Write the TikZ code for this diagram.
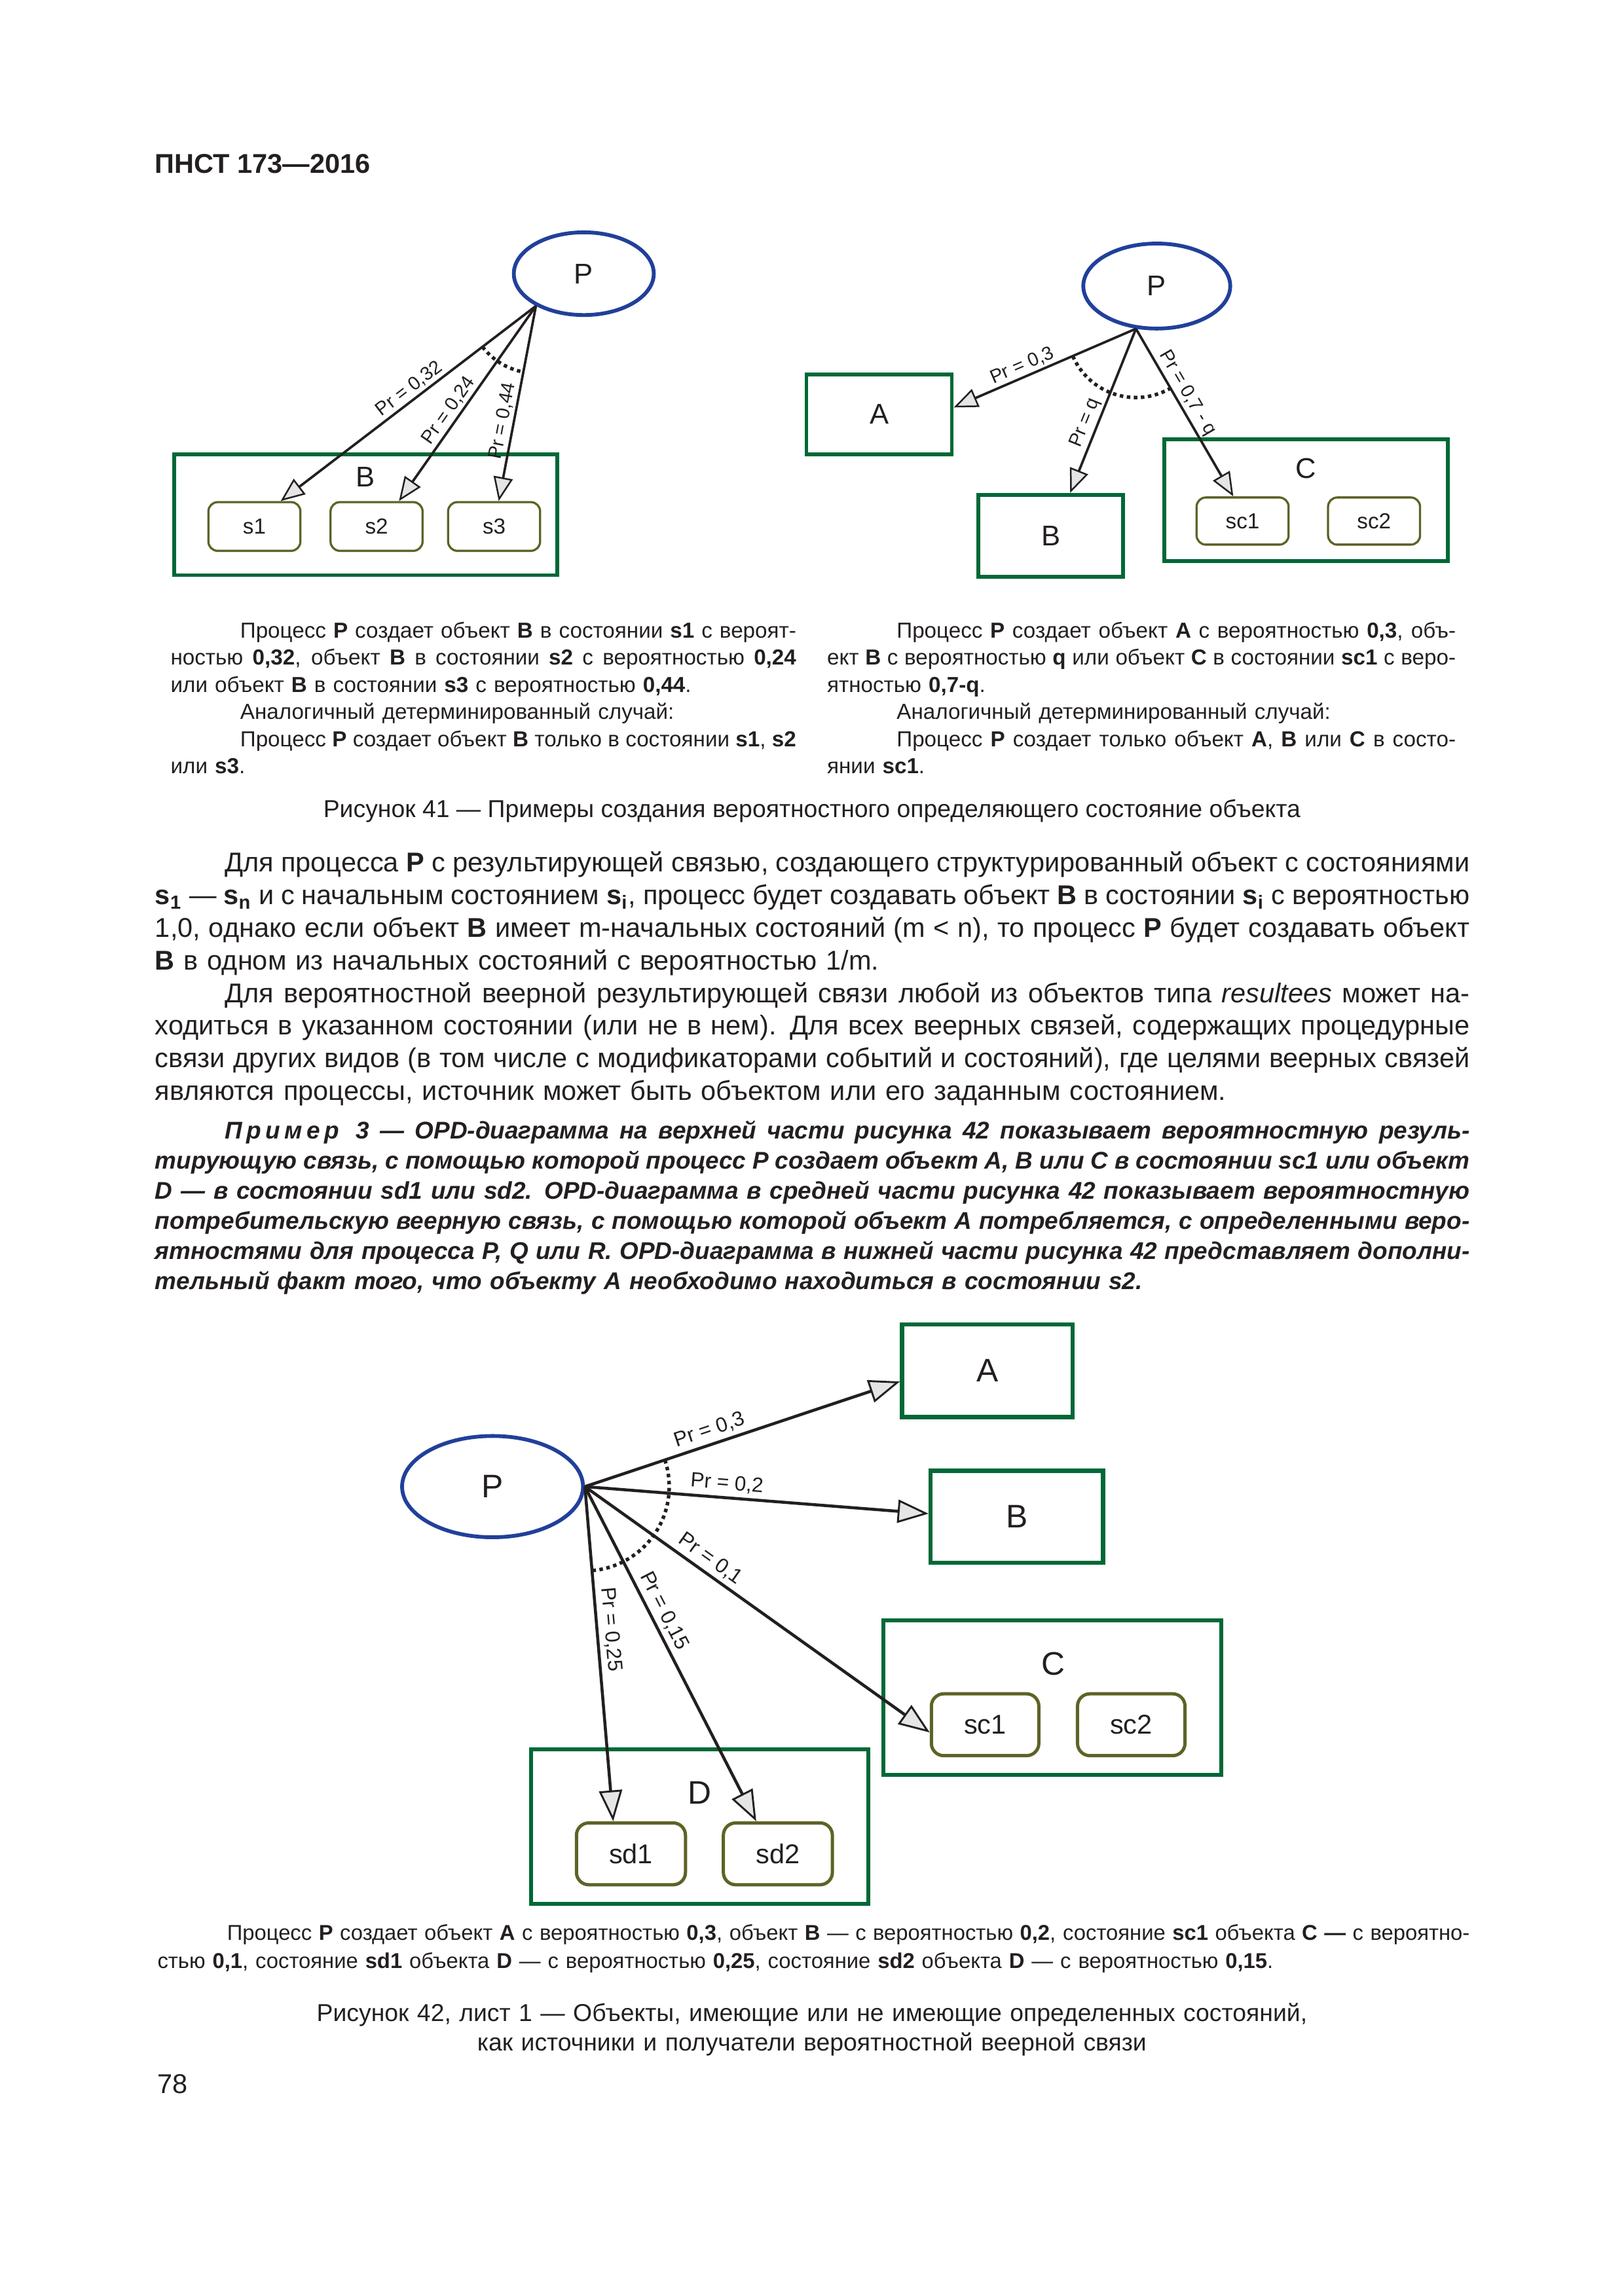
\documentclass[tikz,border=0pt]{standalone}
\usepackage{fontspec}
\setmainfont{Liberation Sans}
\usepackage{xcolor}
\usetikzlibrary{arrows.meta,shapes.geometric}

\definecolor{procblue}{RGB}{33,64,154}
\definecolor{objgreen}{RGB}{0,104,55}
\definecolor{stateolive}{RGB}{94,99,38}
\definecolor{ink}{RGB}{35,31,32}

\newcommand{\parln}[1]{\hbox to\hsize{\spaceskip=.278em plus .4em minus .11em\hskip9mm #1}}
\newcommand{\fullln}[1]{\hbox to\hsize{\spaceskip=.278em plus .4em minus .11em #1}}
\newcommand{\lastln}[1]{\hbox{#1}}
\newcommand{\shortparln}[1]{\hbox{\hskip9mm #1}}

\begin{document}
\begin{tikzpicture}[x=1mm,y=1mm,color=ink]
    \tikzstyle{proc} = [ellipse, draw=procblue, line width=1.4pt, inner sep=0pt]
    \tikzstyle{obj} = [rectangle, draw=objgreen, line width=1.4pt, inner sep=0pt]
    \tikzstyle{state} = [rectangle, draw=stateolive, rounded corners=1.2mm, line width=0.8pt, inner sep=0pt]
    \tikzstyle{link} = [line width=0.9pt, -{Triangle[length=3.1mm, width=2.5mm, fill=black!10, line width=0.6pt]}]
    \tikzstyle{biglink} = [line width=1.1pt, -{Triangle[length=4mm, width=3mm, fill=black!10, line width=0.7pt]}]
    \tikzstyle{fan} = [line width=1.3pt, dash pattern=on 1.3pt off 1.3pt]
    \tikzstyle{pr} = [sloped, above, inner sep=0.8pt, font=\fontsize{7}{8}\selectfont]
    \tikzstyle{bigpr} = [sloped, above, inner sep=1.5pt, font=\fontsize{7.6}{9}\selectfont]
    \tikzstyle{objname} = [inner sep=0pt, font=\fontsize{10.5}{12}\selectfont]
    \tikzstyle{bigobjname} = [inner sep=0pt, font=\fontsize{12}{14}\selectfont]
    \tikzstyle{smalltext} = [anchor=base west, inner sep=0pt, font=\fontsize{8}{10}\selectfont]
    \useasboundingbox (0,0) rectangle (210,-297);

    \node[anchor=base west, inner sep=0pt, font=\bfseries\fontsize{10}{12}\selectfont] (head) at (20,-22.4) {ПНСТ 173—2016};

    % figure 41, left
    \node[proc, objname, minimum width=18.1mm, minimum height=10.7mm] (P1) at (75.5,-35.4) {P};
    \node[obj, minimum width=49.6mm, minimum height=15.6mm] (B1) at (47.3,-66.6) {};
    \node[objname] (B1name) at (47.3,-61.7) {B};
    \node[state, minimum width=11.9mm, minimum height=6.3mm, font=\fontsize{8}{10}\selectfont] (s1) at (32.9,-68.1) {s1};
    \node[state, minimum width=11.9mm, minimum height=6.3mm, font=\fontsize{8}{10}\selectfont] (s2) at (48.7,-68.1) {s2};
    \node[state, minimum width=11.9mm, minimum height=6.3mm, font=\fontsize{8}{10}\selectfont] (s3) at (63.9,-68.1) {s3};
    \coordinate (o1) at (P1.214);
    \draw[link] (o1) -- node[pr, pos=.47] {Pr = 0,32} ([xshift=3.4mm]s1.north);
    \draw[link] (o1) -- node[pr, pos=.57] {Pr = 0,24} ([xshift=2.9mm]s2.north);
    \draw[link] (o1) -- node[pr, pos=.6] {Pr = 0,44} ([xshift=0.6mm]s3.north);
    \draw[fan] (o1) ++(217.5:8.7) arc[start angle=217.5, end angle=258.9, radius=8.7];

    % figure 41, right
    \node[proc, objname, minimum width=19mm, minimum height=11mm] (P2) at (149.6,-37) {P};
    \node[obj, objname, minimum width=18.8mm, minimum height=10.3mm] (A2) at (113.7,-53.6) {A};
    \node[obj, objname, minimum width=18.7mm, minimum height=10.6mm] (B2) at (135.9,-69.3) {B};
    \node[obj, minimum width=36.7mm, minimum height=15.8mm] (C2) at (168.9,-64.7) {};
    \node[objname] (C2name) at (168.9,-60.6) {C};
    \node[state, minimum width=11.9mm, minimum height=6.1mm, font=\fontsize{8}{10}\selectfont] (sc1) at (160.7,-67.4) {sc1};
    \node[state, minimum width=11.9mm, minimum height=6.1mm, font=\fontsize{8}{10}\selectfont] (sc2) at (177.7,-67.4) {sc2};
    \coordinate (o2) at (P2.244);
    \draw[link] (o2) -- node[pr, pos=.6] {Pr = 0,3} ([yshift=0.9mm]A2.east);
    \draw[link] (o2) -- node[pr, pos=.6] {Pr = q} ([xshift=2.5mm]B2.north);
    \draw[link] (o2) -- node[pr, pos=.42] {Pr = 0,7 - q} ([xshift=-1.2mm]sc1.north);
    \draw[fan] (o2) ++(203.5:8.9) arc[start angle=203.5, end angle=299.6, radius=8.9];

    \node[smalltext, text width=80.9mm] (text41l) at (22,-82.5) {\parln{Процесс \textbf{P} создает объект \textbf{B} в состоянии \textbf{s1} с вероят-}
        \fullln{ностью \textbf{0,32}, объект \textbf{B} в состоянии \textbf{s2} с вероятностью \textbf{0,24}}
        \lastln{или объект \textbf{B} в состоянии \textbf{s3} с вероятностью \textbf{0,44}.}
        \shortparln{Аналогичный детерминированный случай:}
        \parln{Процесс \textbf{P} создает объект \textbf{B} только в состоянии \textbf{s1}, \textbf{s2}}
        \lastln{или \textbf{s3}.}};
    \node[smalltext, text width=81.3mm] (text41r) at (106.9,-82.5) {\parln{Процесс \textbf{P} создает объект \textbf{A} с вероятностью \textbf{0,3}, объ-}
        \fullln{ект \textbf{B} с вероятностью \textbf{q} или объект \textbf{C} в состоянии \textbf{sc1} с веро-}
        \lastln{ятностью \textbf{0,7-q}.}
        \shortparln{Аналогичный детерминированный случай:}
        \parln{Процесс \textbf{P} создает только объект \textbf{A}, \textbf{B} или \textbf{C} в состо-}
        \lastln{янии \textbf{sc1}.}};
    \node[anchor=base, inner sep=0pt, font=\fontsize{9}{11}\selectfont] (title41) at (105,-105.7) {Рисунок 41 — Примеры создания вероятностного определяющего состояние объекта};

    \node[anchor=base west, inner sep=0pt, text width=170mm, font=\fontsize{10}{12}\selectfont] (body) at (20,-112.8) {\parln{Для процесса \textbf{P} с результирующей связью, создающего структурированный объект с состояниями}
        \fullln{\textbf{s\textsubscript{1}} — \textbf{s\textsubscript{n}} и с начальным состоянием \textbf{s\textsubscript{i}}, процесс будет создавать объект \textbf{B} в состоянии \textbf{s\textsubscript{i}} с вероятностью}
        \fullln{1,0, однако если объект \textbf{B} имеет m-начальных состояний (m < n), то процесс \textbf{P} будет создавать объект}
        \lastln{\textbf{B} в одном из начальных состояний с вероятностью 1/m.}
        \parln{Для вероятностной веерной результирующей связи любой из объектов типа \textit{resultees} может на-}
        \fullln{ходиться в указанном состоянии (или не в нем). Для всех веерных связей, содержащих процедурные}
        \fullln{связи других видов (в том числе с модификаторами событий и состояний), где целями веерных связей}
        \lastln{являются процессы, источник может быть объектом или его заданным состоянием.}};

    \node[anchor=base west, inner sep=0pt, text width=170mm, font=\fontsize{8.9}{11.1}\selectfont\bfseries\itshape] (example) at (20,-147.3) {\parln{П\kern1.6ptр\kern1.6ptи\kern1.6ptм\kern1.6ptе\kern1.6ptр\hskip6pt 3 — OPD-диаграмма на верхней части рисунка 42 показывает вероятностную резуль-}
        \fullln{тирующую связь, с помощью которой процесс P создает объект A, B или C в состоянии sc1 или объект}
        \fullln{D — в состоянии sd1 или sd2. OPD-диаграмма в средней части рисунка 42 показывает вероятностную}
        \fullln{потребительскую веерную связь, с помощью которой объект A потребляется, с определенными веро-}
        \fullln{ятностями для процесса P, Q или R. OPD-диаграмма в нижней части рисунка 42 представляет дополни-}
        \lastln{тельный факт того, что объекту A необходимо находиться в состоянии s2.}};

    % figure 42
    \node[proc, bigobjname, minimum width=23.4mm, minimum height=13.1mm] (P3) at (63.7,-192.3) {P};
    \node[obj, bigobjname, line width=1.5pt, minimum width=22.1mm, minimum height=12mm] (A3) at (127.7,-177.3) {A};
    \node[obj, bigobjname, line width=1.5pt, minimum width=22.3mm, minimum height=11.9mm] (B3) at (131.5,-196.2) {B};
    \node[obj, line width=1.5pt, minimum width=43.7mm, minimum height=20mm] (C3) at (136.1,-219.6) {};
    \node[bigobjname] (C3name) at (136.2,-215.2) {C};
    \node[state, line width=1.2pt, rounded corners=1.6mm, minimum width=13.9mm, minimum height=8mm, font=\fontsize{10}{12}\selectfont] (sc13) at (127.4,-223.1) {sc1};
    \node[state, line width=1.2pt, rounded corners=1.6mm, minimum width=13.9mm, minimum height=8mm, font=\fontsize{10}{12}\selectfont] (sc23) at (146.3,-223.1) {sc2};
    \node[obj, line width=1.5pt, minimum width=43.6mm, minimum height=20mm] (D3) at (90.5,-236.3) {};
    \node[bigobjname] (D3name) at (90.5,-231.9) {D};
    \node[state, line width=1.2pt, rounded corners=1.6mm, minimum width=14.1mm, minimum height=8mm, font=\fontsize{10}{12}\selectfont] (sd1) at (81.6,-239.8) {sd1};
    \node[state, line width=1.2pt, rounded corners=1.6mm, minimum width=14.1mm, minimum height=8mm, font=\fontsize{10}{12}\selectfont] (sd2) at (100.6,-239.8) {sd2};
    \coordinate (o3) at (P3.east);
    \draw[biglink] (o3) -- node[bigpr, pos=.41] {Pr = 0,3} ([yshift=-1.4mm]A3.west);
    \draw[biglink] (o3) -- node[bigpr, pos=.41] {Pr = 0,2} ([yshift=0.4mm]B3.west);
    \draw[biglink] (o3) -- node[bigpr, pos=.34] {Pr = 0,1} ([yshift=-1mm]sc13.west);
    \draw[biglink] (o3) -- node[bigpr, pos=.39] {Pr = 0,15} ([xshift=-2.8mm]sd2.north);
    \draw[biglink] (o3) -- node[bigpr, pos=.43] {Pr = 0,25} ([xshift=-2.3mm]sd1.north);
    \draw[fan] (o3) ++(-84.9:10.9) arc[start angle=-84.9, end angle=18.25, radius=10.9];

    \node[smalltext, text width=169.7mm, font=\fontsize{7.9}{10.2}\selectfont] (text42) at (20.3,-251) {\parln{Процесс \textbf{P} создает объект \textbf{A} с вероятностью \textbf{0,3}, объект \textbf{B} — с вероятностью \textbf{0,2}, состояние \textbf{sc1} объекта \textbf{C —} с вероятно-}
        \lastln{стью \textbf{0,1}, состояние \textbf{sd1} объекта \textbf{D} — с вероятностью \textbf{0,25}, состояние \textbf{sd2} объекта \textbf{D} — с вероятностью \textbf{0,15}.}};
    \node[anchor=base, inner sep=0pt, text width=170mm, align=center, font=\fontsize{9}{10.8}\selectfont] (title42) at (105,-261.5) {Рисунок 42, лист 1 — Объекты, имеющие или не имеющие определенных состояний,\\как источники и получатели вероятностной веерной связи};

    \node[anchor=base west, inner sep=0pt, font=\fontsize{10}{12}\selectfont] (pagenum) at (20.3,-270.8) {78};
\end{tikzpicture}
\end{document}
